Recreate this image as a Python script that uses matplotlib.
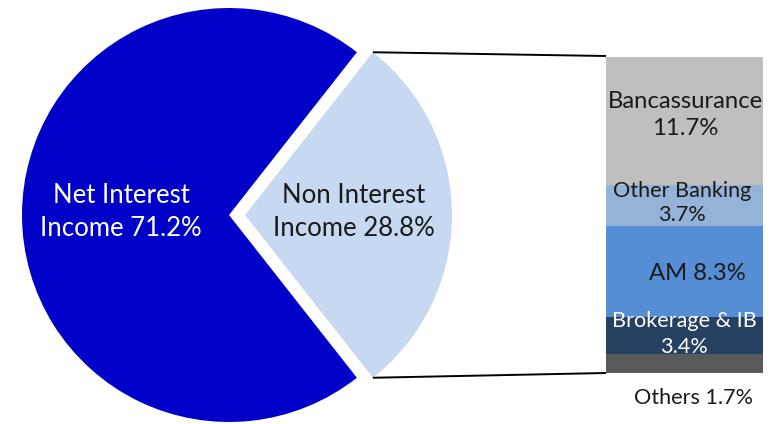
import math
import matplotlib
matplotlib.use("Agg")
import matplotlib.pyplot as plt

plt.rcParams['font.family'] = ['Lato', 'DejaVu Sans']

# Revenue split
pie_labels = ["Net Interest\nIncome 71.2%", "Non Interest\nIncome 28.8%"]
pie_values = [71.2, 28.8]
pie_colors = ["#0000C8", "#C6D9F1"]
pie_text_colors = ["white", "#1a1a1a"]

# Breakdown of non interest income (bottom to top)
seg_labels = ["Others 1.7%", "Brokerage & IB\n3.4%", "AM 8.3%",
              "Other Banking\n3.7%", "Bancassurance\n11.7%"]
seg_values = [1.7, 3.4, 8.3, 3.7, 11.7]
seg_colors = ["#595959", "#254061", "#558ED5", "#95B3D7", "#BFBFBF"]
seg_text_colors = ["#1a1a1a", "white", "#1a1a1a", "#1a1a1a", "#1a1a1a"]

W, H = 776, 424
fig = plt.figure(figsize=(W / 100, H / 100), dpi=100)
ax = fig.add_axes([0, 0, 1, 1])
ax.set_zorder(2)

cx, cy, r = 229, H - 215, 207
shift = 16
start = pie_values[1] / 2 * 3.6
wedges, _ = ax.pie(pie_values, colors=pie_colors, startangle=start,
                   radius=r, center=(cx, cy),
                   explode=[0, shift], wedgeprops=dict(linewidth=0))
ax.set_xlim(0, W)
ax.set_ylim(0, H)
ax.set_aspect("equal")
ax.axis("off")

fs_pie = 18.5
ax.text(121, H - 212, pie_labels[0], color=pie_text_colors[0], fontsize=fs_pie,
        ha="center", va="center", linespacing=1.44)
ax.text(354, H - 212, pie_labels[1], color=pie_text_colors[1], fontsize=fs_pie,
        ha="center", va="center", linespacing=1.44)

# Stacked bar for the breakdown
bx0, bx1, by_top, by_bot = 606, 763, 57, 373
bax = fig.add_axes([bx0 / W, (H - by_bot) / H, (bx1 - bx0) / W,
                    (by_bot - by_top) / H])
bax.set_zorder(1)
total = sum(seg_values)
bottom = 0
for v, c in zip(seg_values, seg_colors):
    bax.bar(0, v, bottom=bottom, width=1, color=c, linewidth=0)
    bottom += v
bax.set_xlim(-0.5, 0.5)
bax.set_ylim(0, total)
bax.axis("off")

# Connector lines from the detached slice to the bar
ang = math.radians(start)
sx = cx + shift + r * math.cos(ang)
sy_top = cy + r * math.sin(ang)
sy_bot = cy - r * math.sin(ang)
ax.plot([sx, bx0], [sy_top, H - by_top + 1], color="black", lw=1.4,
        solid_capstyle="butt")
ax.plot([sx, bx0], [sy_bot, H - by_bot], color="black", lw=1.4,
        solid_capstyle="butt")

# Segment labels (pixel positions of each label's centre)
fs_big = 17.2
fs_small = 15.6
label_pos = [(694, 398, fs_small, 1.0),
             (684, 334, fs_small, 1.36),
             (697, 273, fs_big, 1.0),
             (682, 203, fs_small, 1.27),
             (685, 115, fs_big, 1.33)]
for lab, col, (px, py, fs, ls) in zip(seg_labels, seg_text_colors, label_pos):
    ax.text(px, H - py, lab, ha="center", va="center", fontsize=fs,
            color=col, linespacing=ls)

fig.savefig("out.png", dpi=100, facecolor="white")
